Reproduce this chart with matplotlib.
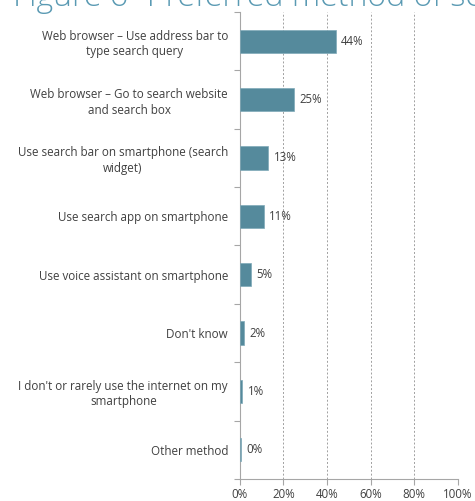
import matplotlib.pyplot as plt
from matplotlib.ticker import FixedLocator, NullFormatter

# Preferred search method on smartphone, share of respondents (%)
methods = [
    "Web browser \u2013 Use address bar to\ntype search query",
    "Web browser \u2013 Go to search website\nand search box",
    "Use search bar on smartphone (search\nwidget)",
    "Use search app on smartphone",
    "Use voice assistant on smartphone",
    "Don't know",
    "I don't or rarely use the internet on my\nsmartphone",
    "Other method",
]
shares = [44, 25, 13, 11, 5, 2, 1, 0.3]
x_ticks = [0, 20, 40, 60, 80, 100]

bar_color = "#558a9c"
text_color = "#404040"
axis_color = "#a6a6a6"

plt.rcParams['font.family'] = ['Open Sans', 'DejaVu Sans']

fig = plt.figure(figsize=(4.75, 5.01), dpi=100)
ax = fig.add_axes([0.505, 0.044, 0.459, 0.932])

pos = list(range(len(methods)))
ax.barh(pos, shares, height=0.4, color=bar_color, edgecolor="#7fa9b8", linewidth=0.5, zorder=3)
for p, v in zip(pos, shares):
    ax.text(v + 2.5, p, f"{v:.0f}%", va="center", ha="left", fontsize=8.3, color=text_color)

ax.set_ylim(len(methods) - 0.5, -0.5)
ax.set_xlim(0, 100)
ax.set_yticks(pos)
ax.set_yticklabels(methods, fontsize=8.4, color=text_color, multialignment="center",
                   linespacing=1.25)
ax.tick_params(axis="y", length=0, pad=8.5)
ax.yaxis.set_minor_locator(FixedLocator([i - 0.5 for i in range(len(methods) + 1)]))
ax.yaxis.set_minor_formatter(NullFormatter())
ax.tick_params(axis="y", which="minor", length=4, color=axis_color, width=0.8)

ax.set_xticks(x_ticks)
ax.set_xticklabels([f"{t}%" for t in x_ticks], fontsize=8.3, color=text_color)
ax.tick_params(axis="x", length=4, color=axis_color, width=0.8, pad=2.5)
ax.grid(axis="x", linestyle=(0, (2, 2)), color="#a0a0a0", linewidth=0.7, zorder=0)

for side in ["top", "right"]:
    ax.spines[side].set_visible(False)
for side in ["left", "bottom"]:
    ax.spines[side].set_color(axis_color)
    ax.spines[side].set_linewidth(0.8)

fig.text(0.027, 0.988, "Figure 6- Preferred method of search on smartphone",
         fontsize=23, color="#5a9ab3", ha="left", va="baseline", fontweight="light")

plt.savefig("out.png", dpi=100)
